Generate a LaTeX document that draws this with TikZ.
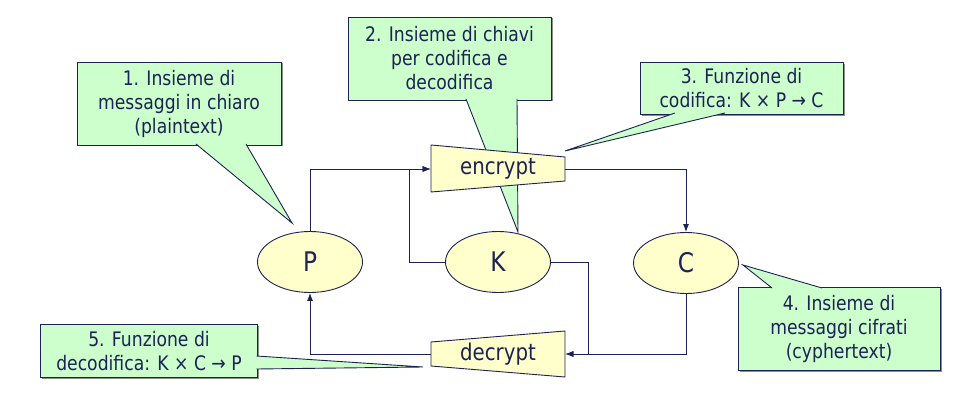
\documentclass[tikz,border=0pt]{standalone}
\usepackage{fontspec}
\setmainfont{DejaVu Sans}[FakeStretch=0.86]
\usetikzlibrary{arrows.meta,shapes.geometric,shadows}
\definecolor{ink}{RGB}{28,34,84}
\definecolor{notegreen}{RGB}{204,255,204}
\definecolor{setyellow}{RGB}{255,255,204}
\begin{document}
\begin{tikzpicture}[x=1pt, y=-1pt, color=ink, line width=0.9pt,
    notebox/.style={rectangle, draw, fill=notegreen, inner sep=0pt, align=center, font=\fontsize{20}{24}\selectfont, drop shadow={shadow xshift=1.5pt, shadow yshift=-1.5pt, fill=black!45, opacity=1}},
    setnode/.style={ellipse, draw, fill=setyellow, minimum width=105pt, minimum height=61pt, inner sep=0pt, font=\fontsize{27}{27}\selectfont},
    opnode/.style={minimum width=134pt, minimum height=24pt, inner sep=0pt, font=\fontsize{23}{23}\selectfont},
    flow/.style={-{Latex[length=8pt,width=6pt]}}]
      \useasboundingbox (0,0) rectangle (980,401);
      \node (plain) at (179,103.5) [notebox, minimum width=204pt, minimum height=83pt] {1. Insieme di\\messaggi in chiaro\\(plaintext)};
      \node (keys) at (449.5,58.5) [notebox, minimum width=203pt, minimum height=83pt] {2. Insieme di chiavi\\per codifica e\\decodifica};
      \node (encf) at (741.5,88.5) [notebox, minimum width=203pt, minimum height=52pt] {3. Funzione di\\codifica: K × P → C};
      \node (ciph) at (839,328.5) [notebox, minimum width=202pt, minimum height=83pt] {4. Insieme di\\messaggi cifrati\\(cyphertext)};
      \node (decf) at (149,351.3) [notebox, minimum width=217pt, minimum height=53pt] {5. Funzione di\\decodifica: K × C → P};
      \foreach \a/\b/\c in {{196,144}/{246,144}/{292,223}, {466,99}/{517,99}/{518,232}, {675,113}/{725,113}/{565,151}, {772,288}/{822,288}/{743,265}, {256.5,356}/{256.5,369}/{423,367}}
        \draw[fill=notegreen] (\a) -- (\c) -- (\b);
      \draw[fill=setyellow] (431,145) -- (565,157) -- (565,181) -- (431,192) -- cycle;
      \draw[fill=setyellow] (431,342) -- (565,331) -- (565,377) -- (431,366) -- cycle;
      \node (enc) at (498,169) [opnode] {encrypt};
      \node (dec) at (498,354) [opnode] {decrypt};
      \node (P) at (310,262) [setnode] {P};
      \node (K) at (498,262) [setnode] {K};
      \node (C) at (686,263) [setnode] {C};
      \draw[flow] (P.north) |- (enc.west);
      \draw[flow] (K.west) -- ++(-36,0) |- (enc.west);
      \draw[flow] (enc.east) -| (C.north);
      \draw[flow] (C.south) |- (dec.east);
      \draw[flow] (K.east) -- ++(37,0) |- (dec.east);
      \draw[flow] (dec.west) -| (P.south);
    \end{tikzpicture}
\end{document}
